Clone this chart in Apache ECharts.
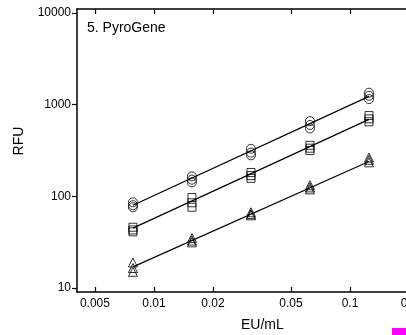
<!DOCTYPE html>
<html><head><meta charset="utf-8">
<script src="https://cdn.jsdelivr.net/npm/echarts@6/dist/echarts.min.js"></script>
<style>html,body{margin:0;padding:0;background:#fff;overflow:hidden}#c{width:440px;height:335px}</style>
</head><body><div id="c"></div>
<script>
// Concentrations (EU/mL)
var conc = [0.0078125, 0.015625, 0.03125, 0.0625, 0.125];
// Replicate RFU readings per concentration
var circleRFU = [[86, 80, 76], [165, 152, 142], [330, 300, 280], [660, 600, 550], [1350, 1250, 1150]];
var squareRFU = [[46, 43, 41], [97, 85, 76], [182, 168, 157], [360, 335, 316], [760, 700, 650]];
var triangleRFU = [[19, 16.5, 15], [35, 33, 31.5], [67, 64, 62], [132, 125, 119], [265, 250, 235]];
// Fitted line endpoints (at first and last concentration)
var circleFit = [80, 1230];
var squareFit = [45, 690];
var triangleFit = [17, 240];
// Tick labels
var xTicks = [0.005, 0.01, 0.02, 0.05, 0.1, 0.2];
var yTicks = [10, 100, 1000, 10000];

function pts(reps) {
  var out = [];
  reps.forEach(function (r, i) { r.forEach(function (v) { out.push([conc[i], v]); }); });
  return out;
}
function fit(f) { return [[conc[0], f[0]], [conc[conc.length - 1], f[1]]]; }

var font = 'Liberation Sans, Arial, Helvetica, sans-serif';
var chart = echarts.init(document.getElementById('c'));
var xMin = 0.00405, xMax = 0.25, yMin = 9.04, yMax = 11050;
var axLine = { show: true, lineStyle: { color: '#000', width: 1.5 } };

function scat(name, sym, size, reps) {
  return { type: 'scatter', name: name, symbol: sym, symbolSize: size, data: pts(reps),
    itemStyle: { color: 'rgba(0,0,0,0)', borderColor: '#000', borderWidth: 1 }, z: 3 };
}
function ln(f) {
  return { type: 'line', data: fit(f), symbol: 'none', lineStyle: { color: '#000', width: 1.2 }, z: 2 };
}

chart.setOption({
  animation: false,
  backgroundColor: '#fff',
  grid: { left: 77, top: 9, right: 12, bottom: 43 },
  title: { text: '5. PyroGene', left: 87, top: 21, padding: 0,
    textStyle: { fontFamily: font, fontSize: 14, fontWeight: 'normal', color: '#000' } },
  xAxis: [
    { type: 'log', min: xMin, max: xMax, position: 'bottom', axisLine: axLine,
      axisTick: { inside: true, length: 5, customValues: xTicks, lineStyle: { color: '#000', width: 1.2 } },
      axisLabel: { customValues: xTicks, margin: 6, color: '#000', fontFamily: font, fontSize: 12,
        formatter: function (v) { return String(v); } },
      splitLine: { show: false }, minorTick: { show: false } },
    { type: 'log', min: xMin, max: xMax, position: 'top', axisLine: axLine,
      axisTick: { inside: true, length: 5, customValues: xTicks, lineStyle: { color: '#000', width: 1.2 } },
      axisLabel: { show: false }, splitLine: { show: false } }
  ],
  yAxis: [
    { type: 'log', min: yMin, max: yMax, position: 'left', axisLine: axLine,
      axisTick: { inside: false, length: 5, customValues: yTicks, lineStyle: { color: '#000', width: 1.2 } },
      axisLabel: { customValues: yTicks, margin: 6, color: '#000', fontFamily: font, fontSize: 12,
        formatter: function (v) { return String(v); } },
      splitLine: { show: false } }
  ],
  graphic: [
    { type: 'text', left: 241, top: 318, style: { text: 'EU/mL', font: '14px ' + font, fill: '#000' } },
    { type: 'text', x: 19, y: 141, rotation: Math.PI / 2,
      style: { text: 'RFU', font: '14px ' + font, fill: '#000', align: 'center', verticalAlign: 'middle' } },
    { type: 'rect', shape: { x: 392, y: 328, width: 14, height: 7 }, style: { fill: '#ff00ff' } }
  ],
  series: [
    ln(circleFit), ln(squareFit), ln(triangleFit),
    scat('circle', 'circle', 9, circleRFU),
    scat('square', 'rect', 8, squareRFU),
    scat('triangle', 'triangle', 9, triangleRFU)
  ]
});
</script></body></html>
